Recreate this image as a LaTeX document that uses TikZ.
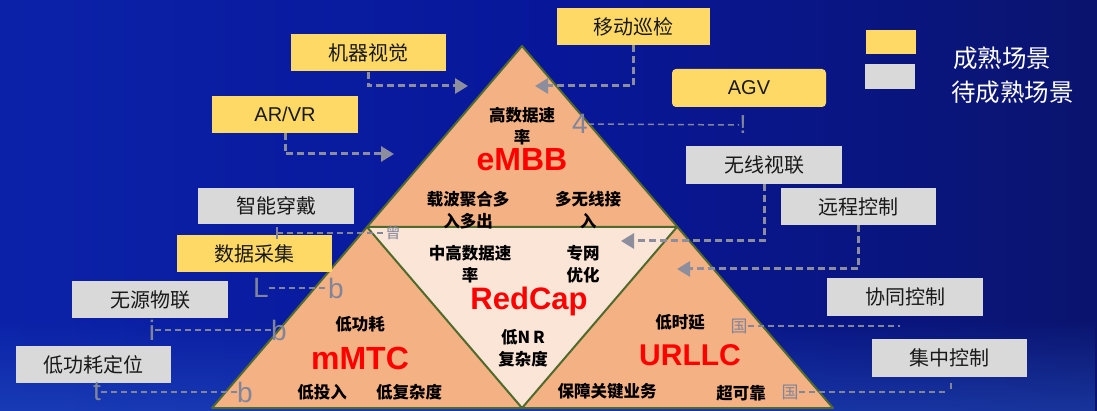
\documentclass[tikz,border=0pt]{standalone}
\usepackage{fontspec}
\newfontfamily\cjk{Noto Sans CJK SC}
\newfontfamily\lat{Liberation Sans}
\usetikzlibrary{arrows.meta,fadings}
\definecolor{bgL}{HTML}{0B22A8}
\definecolor{bgM}{HTML}{08179A}
\definecolor{bgR}{HTML}{0A146E}
\definecolor{bglow}{HTML}{2450C0}
\definecolor{myyellow}{HTML}{FFD966}
\definecolor{mygray}{HTML}{D9D9D9}
\definecolor{salmon}{HTML}{F4B183}
\definecolor{lightpeach}{HTML}{FBE5D6}
\definecolor{edgegreen}{HTML}{4F6A2C}
\definecolor{arrgray}{HTML}{8C8E9E}
\definecolor{glyphgray}{HTML}{80859A}
\begin{document}
\begin{tikzpicture}[x=1pt,y=-1pt,
  boxbase/.style={draw=none, minimum width=155pt, minimum height=37pt, inner sep=0pt,
    font=\cjk\fontsize{20}{24}\selectfont, text=black!90},
  ybox/.style={boxbase, fill=myyellow},
  gbox/.style={boxbase, fill=mygray},
  arr/.style={draw=arrgray, line width=3pt, dash pattern=on 7pt off 4pt,
    -{Triangle[length=13pt,width=15pt]}},
  thinline/.style={draw=glyphgray, line width=1.5pt, dash pattern=on 6pt off 4pt},
  glyph/.style={text=glyphgray, font=\lat\fontsize{28}{28}\selectfont, inner sep=0pt},
  cglyph/.style={text=glyphgray, font=\cjk\fontsize{15}{15}\selectfont, inner sep=0pt},
  tt/.style={font=\cjk\bfseries\fontsize{16.5}{22.5}\selectfont, align=center, text=black, inner sep=0pt},
  big/.style={font=\lat\bfseries\fontsize{32}{32}\selectfont, text=red, inner sep=0pt},
  legtext/.style={font=\cjk\fontsize{24.5}{28}\selectfont, text=white, inner sep=0pt, anchor=west}
]
\useasboundingbox (0,0) rectangle (1097,411);
% background
\shade[left color=bgL, right color=bgR, middle color=bgM] (0,0) rectangle (1097,411);
\fill[bglow, opacity=0.55, path fading=north] (0,320) rectangle (1097,411);

% big triangle
\coordinate (A) at (522,46);
\coordinate (L) at (367,227);
\coordinate (R) at (677,227);
\coordinate (BL) at (212,408);
\coordinate (BM) at (522,408);
\coordinate (BR) at (833,408);
\fill[salmon] (A) -- (BL) -- (BR) -- cycle;
\fill[lightpeach] (L) -- (R) -- (BM) -- cycle;
\draw[edgegreen, line width=2pt, line join=round] (A) -- (BL) -- (BR) -- cycle;
\draw[edgegreen, line width=2pt, line join=round] (L) -- (R) -- (BM) -- cycle;

% triangle texts
\node[tt] (t1) at (522,126) {高数据速\\率};
\node[big] (embb) at (522,160) {eMBB};
\node[tt] (t2) at (468,210) {载波聚合多\\入多出};
\node[tt] (t3) at (588,210) {多无线接\\入};
\node[tt] (t4) at (470,264) {中高数据速\\率};
\node[tt] (t5) at (583,264) {专网\\优化};
\node[big, font=\lat\bfseries\fontsize{31}{31}\selectfont] (redcap) at (529,301) {RedCap};
\node[tt] (t6) at (523,348) {低N\,R\\复杂度};
\node[tt] (t7) at (360,324) {低功耗};
\node[big] (mmtc) at (360,358) {mMTC};
\node[tt] (t8) at (322,392) {低投入};
\node[tt] (t9) at (409,392) {低复杂度};
\node[tt] (t10) at (680,322) {低时延};
\node[big, font=\lat\bfseries\fontsize{30}{30}\selectfont] (urllc) at (690,355) {URLLC};
\node[tt] (t11) at (607,391) {保障关键业务};
\node[tt] (t12) at (741,393) {超可靠};

% boxes
\node[ybox, minimum width=153pt] (yd) at (633.5,26.5) {移动巡检};
\node[ybox] (jq) at (368.5,53) {机器视觉};
\node[ybox, minimum width=146pt, font=\lat\fontsize{20}{24}\selectfont] (ar) at (285,114.5) {AR/VR};
\node[ybox, minimum width=154pt, minimum height=38pt, rounded corners=4pt, font=\lat\fontsize{20}{24}\selectfont] (agv) at (749,88) {AGV};
\node[gbox, minimum width=156pt, minimum height=38pt] (wx) at (764,165) {无线视联};
\node[gbox] (yc) at (858.5,206.5) {远程控制};
\node[gbox, minimum width=156pt, minimum height=36pt] (zn) at (276,206) {智能穿戴};
\node[ybox] (sj) at (254.5,253.5) {数据采集};
\node[gbox, minimum width=156pt, minimum height=38pt] (xt) at (905,297) {协同控制};
\node[gbox, minimum width=156pt] (wy) at (150,299.5) {无源物联};
\node[gbox, minimum height=38pt] (jz) at (949.5,358) {集中控制};
\node[gbox, minimum width=155pt] (dg) at (93.5,364.5) {低功耗定位};

% legend
\node[fill=myyellow, minimum width=50pt, minimum height=24pt, inner sep=0pt] (legy) at (891,42) {};
\node[fill=mygray, minimum width=50pt, minimum height=25pt, inner sep=0pt] (legg) at (890,77) {};
\node[legtext] (lt1) at (953,58) {成熟场景};
\node[legtext] (lt2) at (951,92) {待成熟场景};

% arrows
\coordinate (tipA) at (468,86);
\coordinate (tipB) at (535,86);
\coordinate (tipC) at (394,154);
\coordinate (tipD) at (621,241);
\coordinate (tipE) at (677,269);
\draw[arr] (jq.south) |- (tipA);
\draw[arr] (yd.south) |- (tipB);
\draw[arr] (ar.south) |- (tipC);
\draw[arr] (wx.south) |- (tipD);
\draw[arr] (yc.south) |- (tipE);

% glyph connectors
\node[glyph] (g4) at (580,124) {4};
\node[glyph, font=\lat\fontsize{26}{26}\selectfont] (gex) at (743,125) {!};
\draw[thinline] (g4.east) -- (gex.west);

\node[cglyph] (zeng) at (393,233) {曾};
\coordinate (zt1) at (277,227);
\coordinate (zt2) at (277,239);
\coordinate (zl) at (277,233);
\draw[glyphgray, line width=1.5pt] (zt1) -- (zt2);
\draw[thinline] (zl) -- (zeng.west);

\node[glyph] (gL) at (261,288) {L};
\node[glyph] (gb1) at (336,288) {b};
\draw[thinline] (gL.east) -- (gb1.west);

\node[glyph] (gi) at (152,330) {i};
\node[glyph] (gb2) at (279,330) {b};
\draw[thinline] (gi.east) -- (gb2.west);

\node[glyph] (gt) at (97,392) {t};
\node[glyph] (gb3) at (245,392) {b};
\draw[thinline] (gt.east) -- (gb3.west);

\node[cglyph, font=\cjk\fontsize{17}{17}\selectfont] (guo1) at (739,326) {国};
\coordinate (e1) at (900,326);
\draw[thinline] (guo1.east) -- (e1);

\node[cglyph, font=\cjk\fontsize{17}{17}\selectfont] (guo2) at (790,392) {国};
\coordinate (e2) at (948,392);
\coordinate (k1) at (951,383);
\coordinate (k2) at (951,389);
\draw[thinline] (guo2.east) -- (e2);
\draw[glyphgray, line width=1.5pt] (k1) -- (k2);
\end{tikzpicture}
\end{document}
